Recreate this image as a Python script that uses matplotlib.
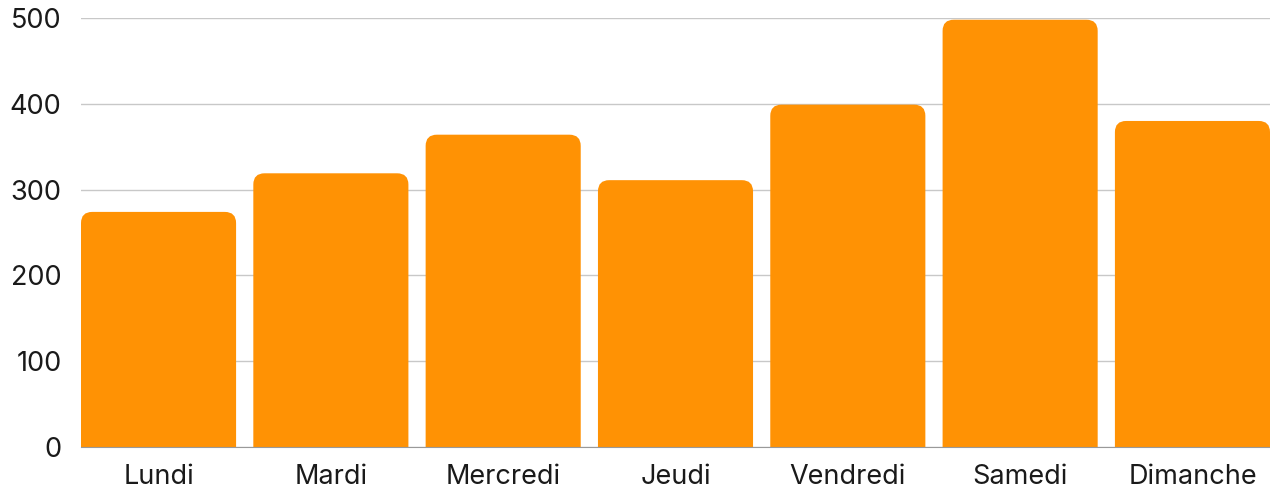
import matplotlib
matplotlib.use('Agg')
import matplotlib.pyplot as plt
from matplotlib.patches import FancyBboxPatch

jours = ['Lundi', 'Mardi', 'Mercredi', 'Jeudi', 'Vendredi', 'Samedi', 'Dimanche']
valeurs = [274, 319, 364, 311, 399, 498, 380]
graduations = [0, 100, 200, 300, 400, 500]

plt.rcParams['font.family'] = ['Inter', 'DejaVu Sans']

fig = plt.figure(figsize=(12.7, 4.88), dpi=100)
ax = fig.add_axes([81/1270, 41/488, 1 - 81/1270, (447 - 18)/488])

largeur = 0.9
ax.set_xlim(-0.45, 6.45)
ax.set_ylim(0, 500)

# barres arrondies en haut (le bas est coupe par l'axe)
for i, v in enumerate(valeurs):
    p = FancyBboxPatch((i - largeur/2, -30), largeur, v + 30,
                       boxstyle="round,pad=0,rounding_size=0.065",
                       mutation_aspect=200, facecolor='#ff9204',
                       edgecolor='none', zorder=3)
    ax.add_patch(p)

ax.set_yticks(graduations)
ax.set_xticks(range(len(jours)))
ax.set_xticklabels(jours)
ax.yaxis.grid(True, color='#c8c8c8', linewidth=1)
ax.set_axisbelow(True)
for s in ['left', 'right', 'top']:
    ax.spines[s].set_visible(False)
ax.spines['bottom'].set_color('#999999')
ax.spines['bottom'].set_zorder(4)
ax.tick_params(length=0, labelsize=19.5, colors='#1a1a1a')
ax.tick_params(axis='y', pad=14)
ax.tick_params(axis='x', pad=12)

fig.savefig('out.png', dpi=100)
